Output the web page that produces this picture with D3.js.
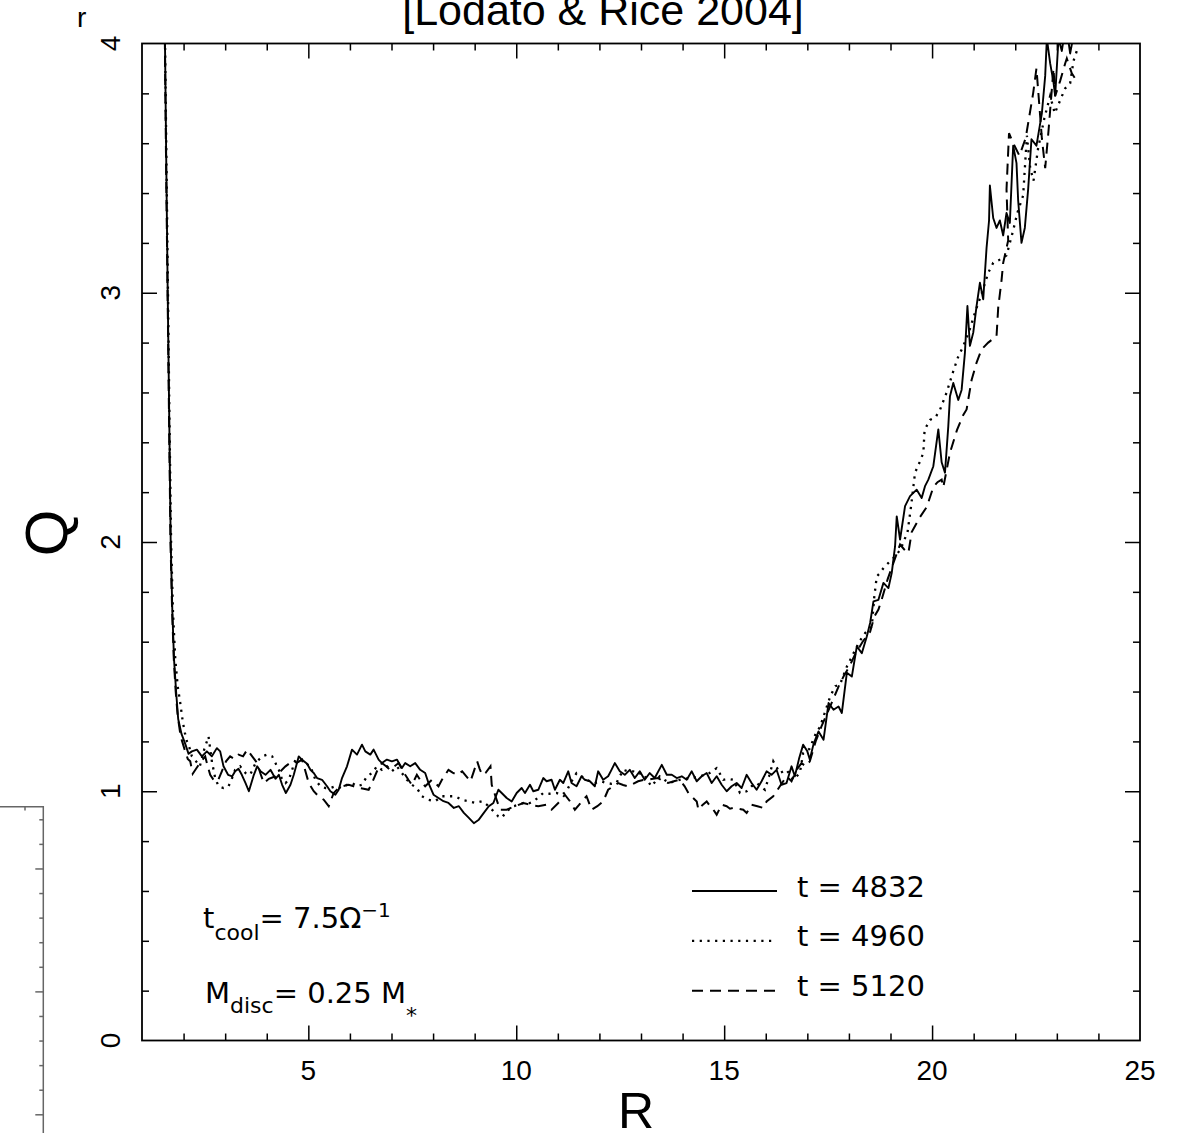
<!DOCTYPE html>
<html>
<head>
<meta charset="utf-8">
<script src="https://cdn.jsdelivr.net/npm/d3@7"></script>
<style>
  html, body { margin: 0; padding: 0; background: #fff; }
  svg { display: block; }
</style>
</head>
<body>
<svg id="chart" width="1184" height="1133"></svg>
<script>
// ---------------- DATA ----------------
const xTickLabels = [5, 10, 15, 20, 25];
const yTickLabels = [0, 1, 2, 3, 4];
const legendLabels = ["t = 4832", "t = 4960", "t = 5120"];

// Q(R) for t = 4832 (solid)
const seriesT4832 = [
[1.50,4.6],[1.553,4.0],[1.585,3.5],[1.618,3.0],[1.655,2.5],[1.69,2.0],[1.73,1.72],[1.77,1.53],[1.82,1.40],[1.87,1.29],[1.95,1.23],[2.04,1.19],[2.12,1.15],[2.20,1.16],[2.32,1.167],[2.44,1.14],[2.56,1.16],[2.68,1.14],[2.80,1.173],[2.88,1.16],[2.96,1.10],[3.07,1.066],[3.17,1.06],[3.24,1.08],[3.32,1.09],[3.40,1.066],[3.49,1.033],[3.57,1.0],[3.69,1.066],[3.77,1.10],[3.85,1.08],[3.97,1.066],[4.09,1.086],[4.21,1.05],[4.29,1.066],[4.37,1.026],[4.46,0.993],[4.57,1.026],[4.65,1.066],[4.77,1.14],[4.85,1.126],[4.97,1.11],[5.05,1.086],[5.13,1.073],[5.21,1.053],[5.33,1.046],[5.45,1.02],[5.53,1.0],[5.65,0.986],[5.73,1.006],[5.81,1.053],[5.93,1.10],[6.05,1.167],[6.17,1.147],[6.29,1.187],[6.37,1.16],[6.49,1.147],[6.57,1.167],[6.69,1.127],[6.77,1.113],[6.89,1.127],[7.01,1.12],[7.13,1.127],[7.25,1.093],[7.33,1.113],[7.45,1.10],[7.57,1.113],[7.69,1.086],[7.81,1.073],[7.89,1.033],[8.01,0.986],[8.13,0.973],[8.25,0.96],[8.37,0.953],[8.50,0.933],[8.62,0.94],[8.74,0.913],[8.86,0.893],[8.98,0.872],[9.10,0.886],[9.22,0.913],[9.34,0.94],[9.45,0.953],[9.57,1.006],[9.65,0.993],[9.77,0.973],[9.89,0.959],[10.01,0.993],[10.13,1.013],[10.21,0.993],[10.33,1.026],[10.41,1.0],[10.53,1.006],[10.65,1.053],[10.73,1.04],[10.85,1.046],[10.93,1.006],[11.05,1.046],[11.13,1.033],[11.25,1.08],[11.33,1.033],[11.45,1.02],[11.57,1.06],[11.65,1.046],[11.77,1.04],[11.89,1.02],[11.97,1.08],[12.09,1.046],[12.21,1.06],[12.29,1.086],[12.37,1.113],[12.49,1.08],[12.61,1.066],[12.73,1.086],[12.85,1.053],[12.97,1.08],[13.09,1.046],[13.21,1.073],[13.33,1.053],[13.50,1.106],[13.62,1.066],[13.74,1.066],[13.86,1.053],[13.98,1.06],[14.10,1.046],[14.22,1.08],[14.34,1.04],[14.46,1.06],[14.58,1.073],[14.70,1.033],[14.82,1.06],[14.94,1.026],[15.06,1.0],[15.18,1.02],[15.30,1.033],[15.42,1.013],[15.54,1.066],[15.66,1.033],[15.78,1.006],[15.90,1.04],[16.02,1.08],[16.14,1.066],[16.26,1.086],[16.38,1.026],[16.50,1.033],[16.62,1.10],[16.70,1.06],[16.80,1.13],[16.90,1.187],[17.00,1.16],[17.06,1.127],[17.15,1.19],[17.27,1.24],[17.39,1.207],[17.51,1.354],[17.63,1.327],[17.75,1.34],[17.83,1.314],[17.95,1.475],[18.07,1.46],[18.19,1.581],[18.31,1.554],[18.43,1.621],[18.51,1.675],[18.59,1.762],[18.71,1.768],[18.83,1.836],[18.95,1.815],[19.03,1.876],[19.11,1.983],[19.15,2.103],[19.23,2.01],[19.35,2.144],[19.47,2.184],[19.63,2.21],[19.75,2.177],[19.83,2.224],[19.91,2.25],[20.03,2.304],[20.15,2.452],[20.23,2.32],[20.31,2.278],[20.39,2.465],[20.43,2.585],[20.51,2.638],[20.63,2.57],[20.71,2.61],[20.79,2.76],[20.85,2.947],[20.91,2.787],[20.99,2.84],[21.07,2.947],[21.15,3.04],[21.23,2.974],[21.31,3.18],[21.37,3.29],[21.39,3.43],[21.47,3.30],[21.55,3.26],[21.63,3.29],[21.71,3.23],[21.79,3.32],[21.87,3.28],[21.95,3.59],[22.03,3.52],[22.07,3.37],[22.15,3.20],[22.23,3.26],[22.31,3.415],[22.39,3.616],[22.51,3.59],[22.64,3.72],[22.72,3.87],[22.76,4.02],[22.84,3.92],[22.92,3.844],[22.96,3.79],[23.04,4.02],[23.12,3.97],[23.22,4.08],[23.32,3.96],[23.42,4.05]
];

// Q(R) for t = 4960 (dotted)
const seriesT4960 = [
[1.50,4.6],[1.555,4.0],[1.59,3.5],[1.625,3.0],[1.66,2.5],[1.70,2.0],[1.745,1.72],[1.80,1.53],[1.86,1.42],[1.92,1.354],[1.98,1.28],[2.03,1.235],[2.08,1.20],[2.12,1.187],[2.20,1.14],[2.30,1.12],[2.39,1.10],[2.50,1.17],[2.60,1.22],[2.68,1.12],[2.76,1.053],[2.84,1.02],[2.96,1.013],[3.08,1.02],[3.16,1.05],[3.24,1.086],[3.36,1.10],[3.49,1.073],[3.60,1.066],[3.73,1.113],[3.89,1.14],[4.01,1.147],[4.13,1.14],[4.21,1.113],[4.29,1.086],[4.37,1.046],[4.45,1.033],[4.53,1.046],[4.61,1.086],[4.69,1.127],[4.81,1.127],[4.93,1.113],[5.05,1.10],[5.17,1.046],[5.29,1.02],[5.41,1.013],[5.53,1.013],[5.65,1.02],[5.81,1.013],[5.93,1.026],[6.05,1.033],[6.17,1.02],[6.29,1.026],[6.41,1.06],[6.53,1.073],[6.65,1.10],[6.77,1.086],[6.89,1.10],[7.01,1.08],[7.13,1.10],[7.25,1.073],[7.37,1.046],[7.49,1.026],[7.61,1.013],[7.73,0.98],[7.89,0.966],[8.05,0.96],[8.21,0.98],[8.37,0.98],[8.53,0.98],[8.69,0.966],[8.86,0.96],[9.02,0.953],[9.18,0.96],[9.34,0.94],[9.45,0.92],[9.57,0.899],[9.65,0.893],[9.77,0.92],[9.93,0.94],[10.05,0.945],[10.17,0.953],[10.29,0.95],[10.41,0.959],[10.53,0.975],[10.65,0.993],[10.81,0.99],[10.97,0.993],[11.09,0.985],[11.21,1.0],[11.33,1.04],[11.45,1.073],[11.57,1.06],[11.69,1.046],[11.89,1.033],[12.03,1.04],[12.17,1.033],[12.29,1.03],[12.41,1.033],[12.57,1.086],[12.69,1.08],[12.81,1.08],[12.93,1.07],[13.05,1.073],[13.15,1.045],[13.25,1.02],[13.35,1.04],[13.45,1.06],[13.57,1.045],[13.69,1.033],[13.81,1.04],[13.93,1.046],[14.05,1.05],[14.17,1.053],[14.29,1.055],[14.41,1.06],[14.53,1.065],[14.65,1.073],[14.82,1.093],[14.98,1.046],[15.10,1.05],[15.22,1.046],[15.30,1.02],[15.38,0.993],[15.54,1.0],[15.66,1.02],[15.78,1.033],[15.98,1.006],[16.08,1.06],[16.18,1.12],[16.34,1.073],[16.50,1.086],[16.66,1.046],[16.82,1.073],[16.90,1.153],[17.05,1.17],[17.20,1.23],[17.31,1.26],[17.45,1.33],[17.55,1.38],[17.67,1.421],[17.79,1.43],[17.95,1.50],[18.10,1.55],[18.25,1.60],[18.39,1.635],[18.55,1.66],[18.61,1.78],[18.67,1.862],[18.75,1.876],[18.85,1.90],[18.95,1.916],[19.10,1.94],[19.24,1.97],[19.41,2.04],[19.50,2.15],[19.59,2.278],[19.70,2.32],[19.79,2.358],[19.82,2.45],[19.95,2.49],[20.08,2.50],[20.19,2.53],[20.35,2.60],[20.50,2.68],[20.62,2.74],[20.75,2.786],[20.90,2.85],[21.05,2.93],[21.20,3.00],[21.35,3.08],[21.47,3.12],[21.60,3.13],[21.79,3.15],[21.95,3.25],[22.05,3.32],[22.19,3.39],[22.28,3.63],[22.36,3.50],[22.44,3.45],[22.55,3.58],[22.70,3.70],[22.84,3.79],[22.95,3.72],[23.10,3.78],[23.20,3.82],[23.32,3.84],[23.40,3.93],[23.48,3.97]
];

// Q(R) for t = 5120 (dashed)
const seriesT5120 = [
[1.50,4.6],[1.55,4.0],[1.58,3.5],[1.615,3.0],[1.65,2.5],[1.685,2.0],[1.725,1.72],[1.765,1.53],[1.81,1.40],[1.86,1.30],[1.93,1.22],[2.02,1.17],[2.10,1.13],[2.16,1.12],[2.22,1.07],[2.30,1.09],[2.39,1.113],[2.52,1.14],[2.58,1.10],[2.64,1.066],[2.72,1.046],[2.82,1.04],[2.92,1.08],[3.02,1.12],[3.12,1.14],[3.22,1.13],[3.32,1.147],[3.43,1.14],[3.53,1.167],[3.65,1.14],[3.77,1.113],[3.85,1.07],[3.93,1.033],[4.05,1.05],[4.21,1.06],[4.33,1.08],[4.45,1.10],[4.61,1.12],[4.73,1.115],[4.85,1.127],[4.93,1.08],[5.01,1.033],[5.13,1.0],[5.25,0.979],[5.37,0.966],[5.49,0.94],[5.61,0.993],[5.71,1.01],[5.81,1.02],[5.97,1.026],[6.09,1.02],[6.21,1.013],[6.33,1.01],[6.45,1.006],[6.53,1.033],[6.65,1.08],[6.77,1.113],[6.87,1.10],[6.97,1.086],[7.07,1.10],[7.17,1.113],[7.25,1.09],[7.33,1.066],[7.41,1.045],[7.49,1.026],[7.61,1.066],[7.71,1.04],[7.81,1.02],[7.97,1.046],[8.13,1.02],[8.21,1.045],[8.29,1.066],[8.37,1.086],[8.47,1.075],[8.58,1.066],[8.70,1.08],[8.80,1.06],[8.90,1.04],[8.98,1.08],[9.06,1.12],[9.12,1.09],[9.18,1.066],[9.26,1.073],[9.38,1.10],[9.41,1.026],[9.50,0.98],[9.61,0.926],[9.77,0.926],[9.97,0.94],[10.17,0.953],[10.33,0.946],[10.53,0.94],[10.73,0.946],[10.85,0.926],[11.01,0.953],[11.17,0.986],[11.29,0.96],[11.41,0.926],[11.51,0.945],[11.61,0.966],[11.69,0.98],[11.81,0.926],[11.95,0.94],[12.09,0.959],[12.21,1.006],[12.33,1.02],[12.45,1.033],[12.57,1.025],[12.69,1.02],[12.81,1.03],[12.93,1.04],[13.05,1.045],[13.17,1.046],[13.29,1.05],[13.41,1.053],[13.53,1.04],[13.65,1.033],[13.79,1.04],[13.93,1.046],[14.05,1.02],[14.14,0.993],[14.24,0.975],[14.34,0.959],[14.38,0.926],[14.48,0.945],[14.58,0.959],[14.66,0.94],[14.74,0.926],[14.82,0.906],[14.94,0.946],[15.06,0.94],[15.14,0.93],[15.22,0.933],[15.34,0.93],[15.46,0.926],[15.54,0.913],[15.66,0.946],[15.80,0.94],[15.94,0.933],[16.02,0.959],[16.18,0.98],[16.34,1.02],[16.50,1.06],[16.62,1.04],[16.74,1.086],[16.86,1.113],[16.96,1.10],[17.06,1.12],[17.20,1.20],[17.34,1.26],[17.47,1.31],[17.60,1.36],[17.75,1.42],[17.87,1.46],[18.01,1.50],[18.15,1.55],[18.33,1.60],[18.51,1.64],[18.61,1.70],[18.71,1.729],[18.79,1.77],[18.93,1.85],[19.07,1.916],[19.23,1.99],[19.33,1.97],[19.43,1.956],[19.51,2.04],[19.61,2.07],[19.71,2.10],[19.87,2.14],[20.03,2.22],[20.13,2.24],[20.23,2.25],[20.27,2.22],[20.43,2.358],[20.60,2.45],[20.75,2.51],[20.83,2.532],[20.95,2.65],[21.07,2.72],[21.19,2.773],[21.35,2.80],[21.55,2.826],[21.59,2.94],[21.67,3.05],[21.71,3.12],[21.83,3.21],[21.79,3.415],[21.85,3.64],[21.95,3.60],[22.10,3.55],[22.25,3.62],[22.43,3.80],[22.51,3.90],[22.58,3.75],[22.64,3.62],[22.72,3.50],[22.80,3.65],[22.92,3.90],[22.96,3.79],[23.08,3.85],[23.20,3.92],[23.24,3.94],[23.36,3.88],[23.48,3.85]
];

// ---------------- CHART ----------------
const svg = d3.select("#chart");
const L = 142, R = 1140, T = 43.5, B = 1040.5;
const x = d3.scaleLinear().domain([1, 25]).range([L, R]);
const y = d3.scaleLinear().domain([0, 4]).range([B, T]);

const labelFont = "'Liberation Sans', Arial, Helvetica, sans-serif";
const annFont = "'DejaVu Sans', sans-serif";

// partial neighbouring panel at bottom-left (cropped)
const side = svg.append("g").attr("stroke", "#666").attr("stroke-width", 1.5).attr("fill", "none");
side.append("path").attr("d", "M0,806.7 H43.3 V1133");
const sideY = d3.scaleLinear().domain([0, 12]).range([819.3, 1114.3]);
const sideTicks = d3.range(0, 13);
svg.append("g").attr("transform", "translate(43.3,0)")
  .call(d3.axisLeft(sideY).tickValues(sideTicks).tickSize(4).tickFormat(""))
  .call(g => g.select(".domain").remove())
  .call(g => g.selectAll(".tick line").attr("stroke", "#666").attr("stroke-width", 1.5)
      .attr("x2", d => (d % 5 === 2) ? -8 : -4));
svg.append("line").attr("x1", 25).attr("x2", 25).attr("y1", 806.7).attr("y2", 810.5)
  .attr("stroke", "#666").attr("stroke-width", 1.5);

// Clip for curves
svg.append("defs").append("clipPath").attr("id", "plotclip")
  .append("rect").attr("x", L).attr("y", T).attr("width", R - L).attr("height", B - T);

// Curves
const line = d3.line().x(d => x(d[0])).y(d => y(d[1]));
const curves = svg.append("g").attr("clip-path", "url(#plotclip)").attr("fill", "none").attr("stroke", "#000");
curves.append("path").datum(seriesT4960).attr("d", line)
  .attr("stroke-width", 2.3).attr("stroke-dasharray", "2.2,5.5");
curves.append("path").datum(seriesT5120).attr("d", line)
  .attr("stroke-width", 2).attr("stroke-dasharray", "11,7");
curves.append("path").datum(seriesT4832).attr("d", line)
  .attr("stroke-width", 1.9).attr("stroke-linejoin", "round");

// Ticks (inward) on all four sides
const xMinor = d3.range(2, 25).filter(v => v % 5 !== 0);
const xMajor = [5, 10, 15, 20];
const yMinor = d3.range(1, 20).map(i => i / 5).filter(v => Math.abs(v - Math.round(v)) > 1e-6);
const yMajor = [1, 2, 3];

function tickStyle(g) {
  g.select(".domain").remove();
  g.selectAll(".tick line").attr("stroke", "#000").attr("stroke-width", 1.5);
}
svg.append("g").attr("transform", `translate(0,${B})`).call(d3.axisBottom(x).tickValues(xMinor).tickSize(-7).tickFormat("")).call(tickStyle);
svg.append("g").attr("transform", `translate(0,${B})`).call(d3.axisBottom(x).tickValues(xMajor).tickSize(-15).tickFormat("")).call(tickStyle);
svg.append("g").attr("transform", `translate(0,${T})`).call(d3.axisTop(x).tickValues(xMinor).tickSize(-7).tickFormat("")).call(tickStyle);
svg.append("g").attr("transform", `translate(0,${T})`).call(d3.axisTop(x).tickValues(xMajor).tickSize(-15).tickFormat("")).call(tickStyle);
svg.append("g").attr("transform", `translate(${L},0)`).call(d3.axisLeft(y).tickValues(yMinor).tickSize(-7).tickFormat("")).call(tickStyle);
svg.append("g").attr("transform", `translate(${L},0)`).call(d3.axisLeft(y).tickValues(yMajor).tickSize(-15).tickFormat("")).call(tickStyle);
svg.append("g").attr("transform", `translate(${R},0)`).call(d3.axisRight(y).tickValues(yMinor).tickSize(-7).tickFormat("")).call(tickStyle);
svg.append("g").attr("transform", `translate(${R},0)`).call(d3.axisRight(y).tickValues(yMajor).tickSize(-15).tickFormat("")).call(tickStyle);

// Frame
svg.append("rect").attr("x", L).attr("y", T).attr("width", R - L).attr("height", B - T)
  .attr("fill", "none").attr("stroke", "#000").attr("stroke-width", 1.8);

// Tick labels
svg.append("g").selectAll("text").data(xTickLabels).join("text")
  .attr("x", d => x(d)).attr("y", 1080)
  .attr("text-anchor", "middle").attr("font-family", labelFont).attr("font-size", 28)
  .attr("fill", "#000").text(d => d);
svg.append("g").selectAll("text").data(yTickLabels).join("text")
  .attr("transform", d => `translate(110,${y(d)}) rotate(-90)`)
  .attr("dy", "0.36em").attr("text-anchor", "middle").attr("font-family", labelFont).attr("font-size", 28)
  .attr("fill", "#000").text(d => d);

// Axis labels
svg.append("text").attr("x", 636).attr("y", 1128).attr("text-anchor", "middle")
  .attr("font-family", labelFont).attr("font-size", 50).text("R");
svg.append("text").attr("transform", "translate(45,533) rotate(-90)").attr("dy", "0.36em")
  .attr("text-anchor", "middle").attr("font-family", labelFont).attr("font-size", 60).text("Q");

// Title (cropped at top) and stray glyph
svg.append("text").attr("x", 603).attr("y", 25).attr("text-anchor", "middle")
  .attr("font-family", labelFont).attr("font-size", 43).text("[Lodato & Rice 2004]");
svg.append("text").attr("x", 77).attr("y", 27)
  .attr("font-family", labelFont).attr("font-size", 28).text("r");

// Legend
const legendStyles = [
  { dash: null, w: 1.9, x2: 777 },
  { dash: "2.2,5.5", w: 2.3, x2: 773 },
  { dash: "11,7", w: 2, x2: 777 }
];
const legendQ = [0.6, 0.4, 0.2];
const leg = svg.append("g");
legendLabels.forEach((lab, i) => {
  const yy = y(legendQ[i]);
  leg.append("line").attr("x1", 692).attr("x2", legendStyles[i].x2).attr("y1", yy).attr("y2", yy)
    .attr("stroke", "#000").attr("stroke-width", legendStyles[i].w)
    .attr("stroke-dasharray", legendStyles[i].dash);
  leg.append("text").attr("x", 797).attr("y", yy + 5.6)
    .attr("font-family", annFont).attr("font-size", 29).attr("fill", "#000").text(lab);
});

// Annotations
const a1 = svg.append("text").attr("x", 203).attr("y", 928).attr("font-family", annFont).attr("font-size", 29);
a1.append("tspan").text("t");
a1.append("tspan").attr("font-size", 22).attr("dy", 12).text("cool");
a1.append("tspan").attr("font-size", 29).attr("dy", -12).text("= 7.5Ω");
a1.append("tspan").attr("font-size", 20).attr("dy", -11.4).text("−1");

const a2 = svg.append("text").attr("x", 205).attr("y", 1003).attr("font-family", annFont).attr("font-size", 29);
a2.append("tspan").text("M");
a2.append("tspan").attr("font-size", 22).attr("dy", 10).text("disc");
a2.append("tspan").attr("font-size", 29).attr("dy", -10).text("= 0.25 M");
a2.append("tspan").attr("font-size", 22).attr("dy", 20).text("*");
</script>
</body>
</html>
